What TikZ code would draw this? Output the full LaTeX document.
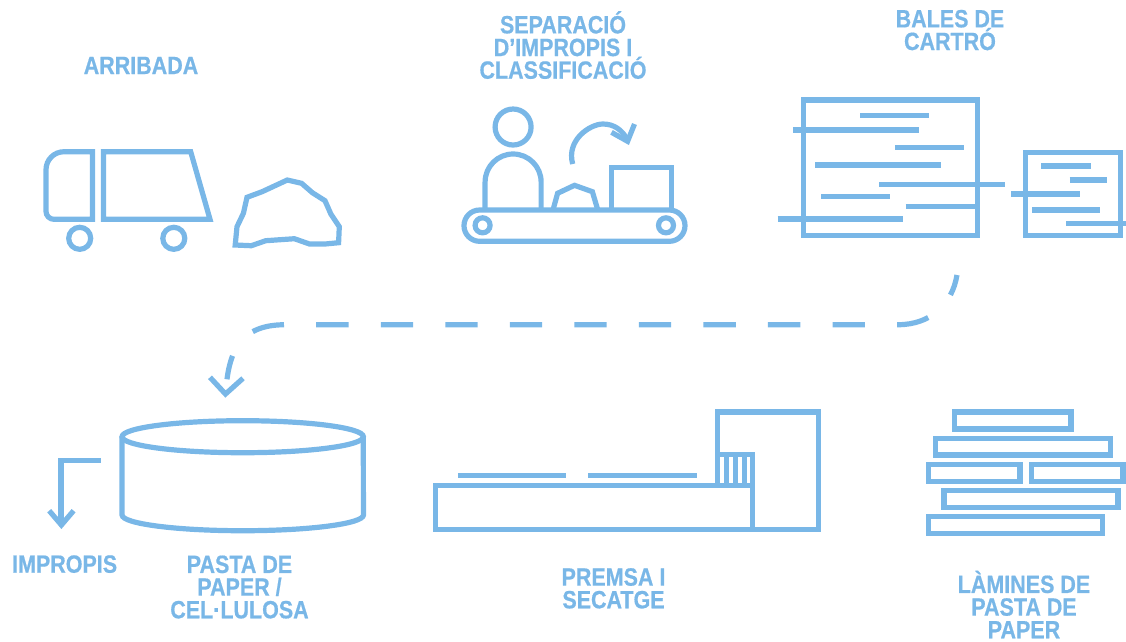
\documentclass[tikz,border=0pt]{standalone}
\usepackage{fontspec}
\setmainfont{Liberation Sans}[FakeStretch=0.86,BoldFeatures={FakeBold=0.6}]
\usepackage{tikz}
\definecolor{pictoblue}{HTML}{79B7E7}
\tikzset{
    lin/.style={draw=pictoblue,line width=0.052cm},
    lab/.style={text=pictoblue,anchor=base,align=center,inner sep=0pt,font=\fontsize{7.1}{6.45}\selectfont\bfseries}
}

\begin{document}
\begin{tikzpicture}[x=0.01cm,y=-0.01cm]
            \useasboundingbox (0,0) rectangle (1126,641);
            \node[lab] (Arr) at (141,74) {ARRIBADA};
            \node[lab] (Sep) at (563,78.7) {SEPARACIÓ\\D’IMPROPIS I\\CLASSIFICACIÓ};
            \node[lab] (Bal) at (950,50) {BALES DE\\CARTRÓ};
            \node[lab] (Imp) at (64.6,572.7) {IMPROPIS};
            \node[lab] (Pas) at (239.5,618.3) {PASTA DE\\PAPER /\\CEL·LULOSA};
            \node[lab] (Pre) at (613.5,608.3) {PREMSA I\\SECATGE};
            \node[lab] (Lam) at (1024,638.3) {LÀMINES DE\\PASTA DE\\PAPER};
            \draw[lin] (92.6,151.7) [rounded corners=0.18cm] -- (46,151.7) [rounded corners=0.08cm] -- (46,219.3) [sharp corners] -- (92.6,219.3) -- cycle;
            \draw[lin] (103.4,151.7) -- (190.7,151.7) -- (210,219.3) -- (103.4,219.3) -- cycle;
            \draw[lin] (79.7,238.3) circle[radius=0.11cm];
            \draw[lin] (173.8,238.3) circle[radius=0.11cm];
            \draw[lin] (235.2,245) -- (237,226.7) -- (243.4,213.3) -- (247,197.3) -- (262.1,191.7) -- (287.3,180) -- (301.6,183.3) -- (312.4,192.7) -- (325,200.7) -- (331,214.3) -- (339.3,226.7) -- (338.6,242.7) -- (325,244) -- (309.5,244) -- (294.4,238.7) -- (265.7,240.7) -- (251.3,245.7) -- cycle;
            \draw[lin] (513.1,127) circle[radius=0.18cm];
            \draw[lin] (485.1,210) -- (485.1,182) arc[start angle=180,end angle=0,radius=0.28cm] -- (541.1,210);
            \draw[lin,rounded corners=0.156cm] (464,210) rectangle (685,241.3);
            \draw[lin] (482.6,225.3) circle[radius=0.075cm];
            \draw[lin] (666,225.3) circle[radius=0.075cm];
            \draw[lin] (553,210) -- (557.6,193.3) -- (574.5,185.3) -- (592.4,191.7) -- (597.8,210);
            \draw[lin] (611.5,210) -- (611.5,167.7) -- (671.4,167.7) -- (671.4,210);
            \draw[lin] (572.7,164) .. controls (566,140) and (590,124) .. (603,124) .. controls (614,124) and (622,130) .. (627,139);
            \draw[lin] (611.5,132.3) -- (627.6,141.3) -- (634.5,124);
            \draw[lin] (803.2,100) rectangle (977.4,235.7);
            \draw[lin] (860,115.3) -- (929,115.3);
            \draw[lin] (792.8,130) -- (918.5,130);
            \draw[lin] (894.8,147.7) -- (963.7,147.7);
            \draw[lin] (815,165) -- (941,165);
            \draw[lin] (879.3,184.3) -- (1005,184.3);
            \draw[lin] (821.2,196.7) -- (890.1,196.7);
            \draw[lin] (905.5,206.3) -- (974.5,206.3);
            \draw[lin] (777.7,219) -- (903.4,219);
            \draw[lin] (1025.5,152.7) rectangle (1120.6,235.7);
            \draw[lin] (1041,166) -- (1091.2,166);
            \draw[lin] (1069.6,180) -- (1107,180);
            \draw[lin] (1011.1,194) -- (1079.7,194);
            \draw[lin] (1032,210) -- (1100.2,210);
            \draw[lin] (1066,223.7) -- (1126,223.7);
            \coordinate (BalOut) at (957,275);
            \coordinate (PasIn) at (227,379.3);
            \draw[lin,dash pattern=on 0.323cm off 0.322cm,dash phase=0.113cm] (BalOut) .. controls (952,305) and (930,324.7) .. (898,324.7) -- (285.5,324.7) .. controls (250,324.7) and (232,340) .. (PasIn);
            \draw[lin] (210,377.3) -- (225.5,394) -- (243,378.3);
            \draw[lin] (242.7,436.7) circle[x radius=1.206cm,y radius=0.16cm];
            \draw[lin] (122.1,436.7) -- (122.1,515) arc[start angle=180,end angle=360,x radius=1.206cm,y radius=0.157cm] -- (363.3,436.7);
            \draw[lin] (100.5,460.3) -- (61,460.3) -- (61,523);
            \draw[lin] (49.2,510.7) -- (61.4,525) -- (73.6,510.7);
            \draw[lin] (435.2,485.7) rectangle (752.2,529.7);
            \draw[lin] (717.8,485.7) -- (717.8,412) -- (818.7,412) -- (818.7,529.7) -- (717.8,529.7);
            \draw[lin] (717.8,454.3) -- (752.2,454.3) -- (752.2,485.7);
            \draw[lin] (726.4,454.3) -- (726.4,485.7);
            \draw[lin] (735.4,454.3) -- (735.4,485.7);
            \draw[lin] (744.3,454.3) -- (744.3,485.7);
            \draw[lin] (457.8,475.7) -- (565.9,475.7);
            \draw[lin] (588.1,475.7) -- (696.6,475.7);
            \draw[lin] (954.4,412) rectangle (1071,429);
            \draw[lin] (935.4,438.3) rectangle (1110.2,455);
            \draw[lin] (928.2,464.3) rectangle (1020.1,481.3);
            \draw[lin] (1031.2,464.3) rectangle (1123.1,481.3);
            \draw[lin] (944,490.7) rectangle (1118.1,507.7);
            \draw[lin] (928.2,516.7) rectangle (1102.7,533.7);
        \end{tikzpicture}
\end{document}
